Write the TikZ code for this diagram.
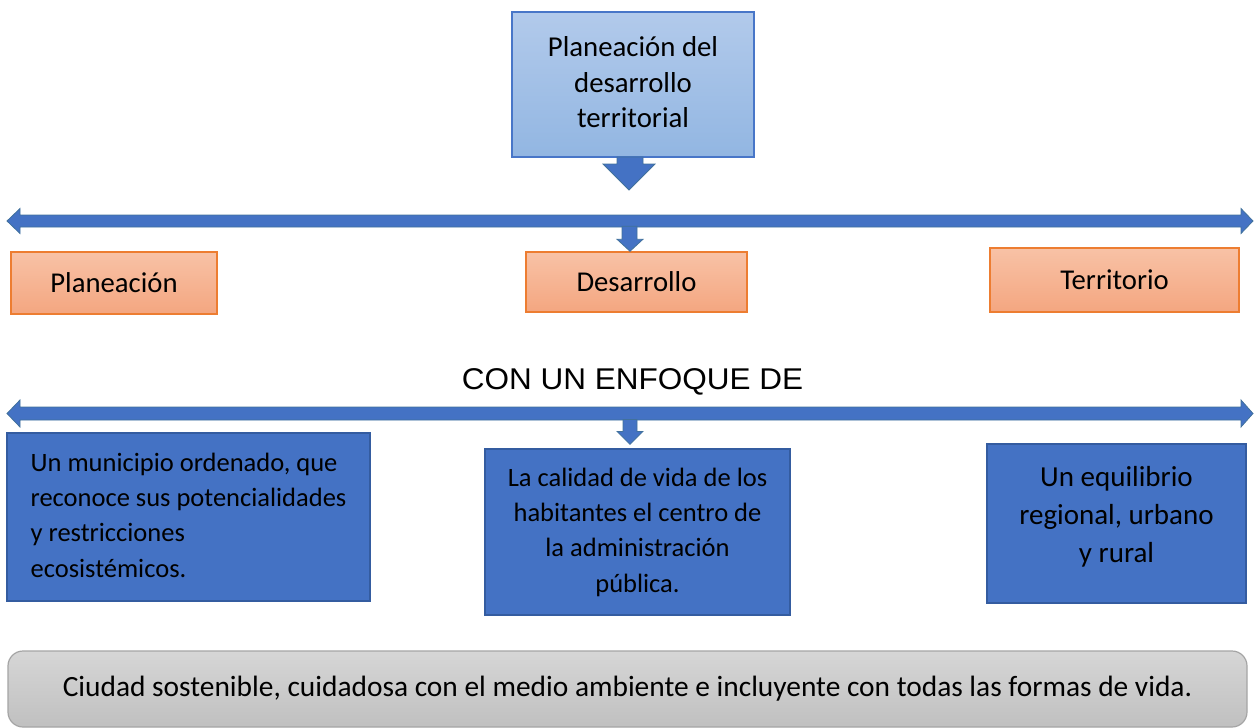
\documentclass[tikz,border=0pt]{standalone}
\usepackage{fontspec}
\setmainfont{Carlito}
\newfontfamily\arialfont[FakeStretch=1.05]{Liberation Sans}
\usepackage{tikz}

\definecolor{arrowblue}{RGB}{68,114,196}
\definecolor{arrowedge}{RGB}{65,113,156}
\definecolor{titletop}{RGB}{178,202,235}
\definecolor{titlebottom}{RGB}{146,182,226}
\definecolor{titleedge}{RGB}{72,118,200}
\definecolor{orangetop}{RGB}{248,194,166}
\definecolor{orangebottom}{RGB}{244,166,128}
\definecolor{orangeedge}{RGB}{237,125,49}
\definecolor{boxedge}{RGB}{52,92,160}
\definecolor{graytop}{RGB}{214,214,214}
\definecolor{graybottom}{RGB}{192,192,192}
\definecolor{grayedge}{RGB}{165,165,165}

\begin{document}
\begin{tikzpicture}[x=1pt,y=-1pt,
	titlebox/.style={draw=titleedge,line width=1.5pt,top color=titletop,bottom color=titlebottom,
		minimum width=242pt,minimum height=145pt,align=center,font=\fontsize{28.8}{35.5}\selectfont},
	orangebox/.style={draw=orangeedge,line width=1.5pt,top color=orangetop,bottom color=orangebottom,
		font=\fontsize{28.7}{35}\selectfont},
	bluebox/.style={draw=boxedge,line width=1.2pt,fill=arrowblue,align=center,
		font=\fontsize{26.5}{35.3}\selectfont},
	graybox/.style={draw=grayedge,line width=1.2pt,top color=graytop,bottom color=graybottom,
		rounded corners=15pt,minimum width=1239pt,minimum height=76pt,font=\fontsize{29.4}{35}\selectfont},
	blockarrow/.style={fill=arrowblue,draw=arrowedge,line width=0.8pt}]
	\useasboundingbox (0,0) rectangle (1254,728);

	% top box
	\node[titlebox] (titulo) at (633,84.5) {\raisebox{-0.5pt}[\height][\depth]{\begin{tabular}{@{}c@{}}Planeación del\\desarrollo\\territorial\end{tabular}}};
	\filldraw[blockarrow] (617,157) -- (643,157) -- (643,164) -- (655,164) -- (629,190) -- (603,164) -- (617,164) -- cycle;

	% first bar
	\filldraw[blockarrow] (7,221) -- (20,208.5) -- (20,215) -- (1241,215) -- (1241,208.5) -- (1253,221)
		-- (1241,233.5) -- (1241,227) -- (20,227) -- (20,233.5) -- cycle;

	\node[orangebox,minimum width=206pt,minimum height=62pt] (planeacion) at (114,283) {Planeación};
	\node[orangebox,minimum width=221pt,minimum height=60pt] (desarrollo) at (636.5,282) {Desarrollo};
	\node[orangebox,minimum width=249pt,minimum height=64pt] (territorio) at (1114.5,280) {Territorio};
	\filldraw[blockarrow,shift={(desarrollo.north)}] (-14.5,-25) -- (0.5,-25) -- (0.5,-12) -- (6.5,-12) -- (-6.5,0)
		-- (-19.5,-12) -- (-14.5,-12) -- cycle;

	\node[font=\arialfont\fontsize{30}{36}\selectfont] (enfoque) at (632.5,382) {CON UN ENFOQUE DE};

	% second bar
	\filldraw[blockarrow] (7,413.5) -- (20,400) -- (20,407) -- (1241,407) -- (1241,400) -- (1253,413.5)
		-- (1241,427) -- (1241,420) -- (20,420) -- (20,427) -- cycle;

	\node[bluebox,minimum width=363pt,minimum height=168pt] (municipio) at (188.5,517)
		{\begin{tabular}{@{}l@{}}Un municipio ordenado, que\\reconoce sus potencialidades\\y restricciones\\ecosistémicos.\end{tabular}};
	\node[bluebox,minimum width=305pt,minimum height=166pt] (calidad) at (637.5,532)
		{La calidad de vida de los\\habitantes el centro de\\la administración\\pública.};
	\node[bluebox,minimum width=259pt,minimum height=159pt,font=\fontsize{29}{38}\selectfont] (equilibrio) at (1116.5,523.5)
		{\raisebox{7pt}[\height][\depth]{\begin{tabular}{@{}c@{}}Un equilibrio\\regional, urbano\\y rural\end{tabular}}};
	\filldraw[blockarrow,shift={(calidad.north)}] (-14.5,-29) -- (-0.5,-29) -- (-0.5,-17) -- (5.5,-17) -- (-7.5,-4)
		-- (-20.5,-17) -- (-14.5,-17) -- cycle;

	% bottom box
	\node[graybox] (ciudad) at (627.5,689) {Ciudad sostenible, cuidadosa con el medio ambiente e incluyente con todas las formas de vida.};
\end{tikzpicture}
\end{document}
